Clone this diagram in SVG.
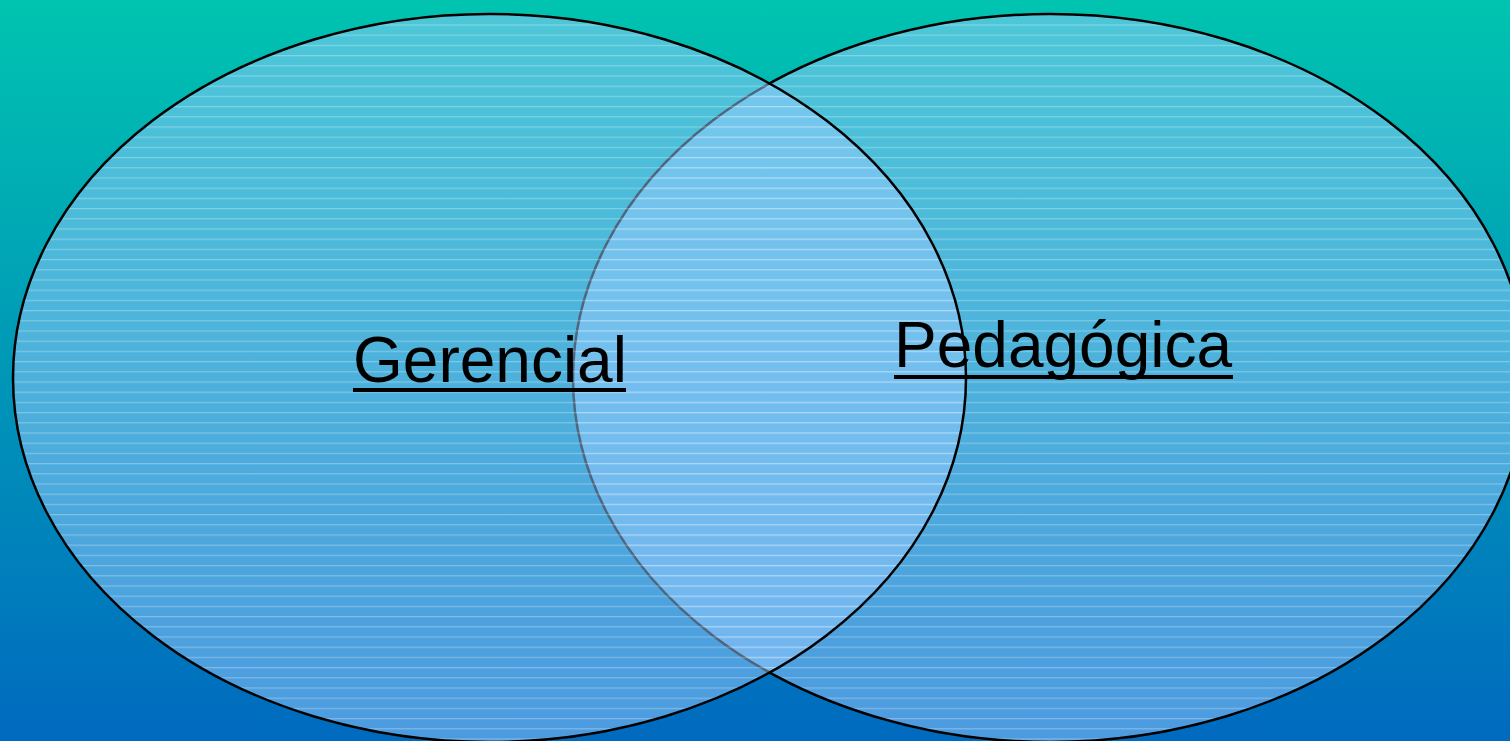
<svg xmlns="http://www.w3.org/2000/svg" width="1510" height="741" viewBox="0 0 1510 741">
<defs>
<linearGradient id="bg" x1="0" y1="0" x2="0" y2="1">
<stop offset="0" stop-color="#00C4B0"/>
<stop offset="1" stop-color="#006ABF"/>
</linearGradient>
<pattern id="stripes" patternUnits="userSpaceOnUse" x="0" y="4" width="20" height="10.2">
<rect x="0" y="0" width="20" height="10.2" fill="#99CCFF" fill-opacity="0.5"/>
<rect x="0" y="0" width="20" height="1.2" fill="#FFFFFF" fill-opacity="0.28"/>
</pattern>
<style>
.set{fill:url(#stripes);stroke:#000;stroke-width:2.5}
.lbl{font-family:"Liberation Sans",Arial,sans-serif;font-size:64px;fill:#000}
.ul{fill:#000}
</style>
</defs>
<rect x="0" y="0" width="1510" height="741" fill="url(#bg)"/>
<g id="pedagogica">
<ellipse class="set" cx="1050" cy="378" rx="477" ry="364"/>
</g>
<g id="gerencial">
<ellipse class="set" cx="489.5" cy="378" rx="476.5" ry="364"/>
</g>
<g id="connectors"/>
<g id="labels">
<text class="lbl" x="353" y="382">Gerencial</text>
<rect class="ul" x="353" y="388" width="273" height="4"/>
<text class="lbl" x="894" y="367">Pedagógica</text>
<rect class="ul" x="894" y="375" width="339" height="4"/>
</g>
</svg>
